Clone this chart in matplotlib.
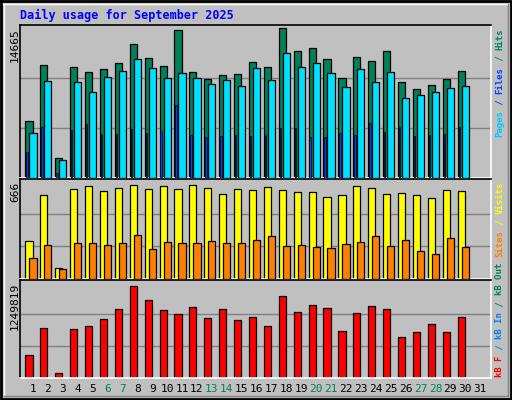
import matplotlib
matplotlib.use("Agg")
import matplotlib.pyplot as plt
import numpy as np

days = list(range(1, 32))
hits = [5607, 11082, 1924, 10883, 10385, 10684, 11281, 13073, 11779, 10983, 14466, 10385, 9689, 10087, 10186,
        11381, 10883, 14665, 12376, 12675, 11679, 9788, 11878, 11480, 12376, 9390, 8693, 9091, 9689, 10485]
files = [4413, 9490, 1725, 9390, 8395, 9888, 10485, 11679, 10784, 9788, 10286, 9788, 9191, 9589, 8992,
         10784, 9589, 12177, 10883, 11281, 10286, 8892, 10684, 9390, 10385, 7797, 8096, 8395, 8793, 8992]
pages = [2522, 5010, 531, 4712, 5309, 4313, 4313, 4811, 4413, 4612, 7101, 4214, 4015, 4114, 4214,
         4114, 4214, 4911, 4911, 4015, 4015, 4413, 4214, 5408, 4512, 5010, 4114, 4214, 4313, 5010]
visits = [259, 571, 72, 613, 634, 599, 620, 641, 613, 634, 613, 641, 620, 578, 613,
          606, 627, 606, 592, 592, 557, 571, 634, 620, 578, 585, 571, 550, 606, 599]
sites = [141, 231, 65, 245, 245, 231, 245, 301, 204, 252, 245, 245, 259, 245, 245,
         266, 294, 224, 231, 217, 210, 238, 252, 294, 224, 266, 190, 169, 280, 217]
kbytes = [293800, 649000, 70200, 635900, 675300, 767400, 899000, 1201500, 1017400, 885800, 833200, 925300,
          780600, 899000, 754300, 793700, 675300, 1070000, 859500, 951600, 912100, 609600, 846400, 938400,
          899000, 530600, 596400, 701600, 596400, 793700]
weekend = {6, 7, 13, 14, 20, 21, 27, 28}
title = "Daily usage for September 2025"

W, H = 512, 400
BG = "#C0C0C0"
fig = plt.figure(figsize=(W / 100, H / 100), dpi=100, facecolor=BG)
MONO = "DejaVu Sans Mono"

def rect(x0, y0, x1, y1):
    return [x0 / W, 1 - y1 / H, (x1 - x0) / W, (y1 - y0) / H]

bax = fig.add_axes([0, 0, 1, 1])
bax.set_xlim(0, W); bax.set_ylim(H, 0); bax.axis("off")
bax.plot([1, W - 1, W - 1, 1, 1], [1, 1, H - 1, H - 1, 1], color="black", lw=2)
bax.plot([3, W - 4], [4, 4], color="white", lw=1)
bax.plot([4, 4], [4, H - 4], color="white", lw=1)
bax.plot([W - 4, W - 4], [4, H - 4], color="#808080", lw=1)
bax.plot([4, W - 4], [H - 4, H - 4], color="#808080", lw=1)

fig.text(20 / W, 1 - 15 / H, title, color="#0000FF", fontsize=8.5, fontweight="bold",
         family=MONO, va="center", ha="left")

XL = (0.13, 31.73)

def panel(y0, y1, vmax, label):
    ax = fig.add_axes(rect(20, y0, 491, y1))
    ax.set_facecolor(BG)
    ax.set_xlim(*XL)
    ax.set_ylim(0, vmax * 1.02)
    ax.set_xticks([]); ax.set_yticks([])
    for y in (vmax / 3, 2 * vmax / 3):
        ax.axhline(y, color="#808080", lw=1, zorder=0)
    ax.spines["top"].set_color("black"); ax.spines["left"].set_color("black")
    ax.spines["right"].set_color("white"); ax.spines["bottom"].set_color("white")
    for s in ax.spines.values():
        s.set_linewidth(1.2)
    fig.text(15 / W, 1 - (y0 + 3) / H, label, rotation=90, ha="center", va="top",
             fontsize=8, family=MONO)
    return ax

d = np.array(days[:len(hits)])
BW = 0.48
ax1 = panel(25, 178, 14665, "14665")
ax1.bar(d - 0.27, hits, BW, color="#00805C", edgecolor="black", lw=0.9, zorder=2)
ax1.bar(d, files, BW, color="#00E0FF", edgecolor="black", lw=0.9, zorder=3)
ax1.bar(d - 0.4, pages, 0.1, color="#0040FF", edgecolor="black", lw=0.5, zorder=4)

ax2 = panel(179, 279, 666, "666")
ax2.bar(d - 0.27, visits, BW, color="#FFFF00", edgecolor="black", lw=0.9, zorder=2)
ax2.bar(d, sites, BW, color="#FF8000", edgecolor="black", lw=0.9, zorder=3)

ax3 = panel(280, 378, 1249819, "1249819")
ax3.bar(d - 0.27, kbytes, BW, color="#FF0000", edgecolor="black", lw=0.9, zorder=2)

for day in days:
    x = 20 + (day - XL[0]) / (XL[1] - XL[0]) * 471
    fig.text(x / W, 1 - 389 / H, str(day), ha="center", va="center", fontsize=8, family=MONO,
             color="#00805C" if day in weekend else "black")

FS = 6.5
ADV = FS * 100 / 72 * 0.602

def side(bottom_px, pieces):
    y = bottom_px
    for txt, col in pieces:
        fig.text(500 / W, 1 - y / H, txt, rotation=90, ha="center", va="bottom", fontsize=FS,
                 fontweight="bold", family=MONO, color=col)
        y -= len(txt) * ADV

side(137, [("Pages", "#00C8FF"), (" / ", "#0040FF"), ("Files", "#0040FF"), (" / ", "#00805C"), ("Hits", "#00805C")])
side(257, [("Sites", "#FF8000"), (" / ", "#FFFF00"), ("Visits", "#FFFF00")])
side(377, [("kB F", "#FF0000"), (" / ", "#0080FF"), ("kB In", "#0080FF"), (" / ", "#00805C"), ("kB Out", "#00805C")])

fig.savefig("out.png", dpi=100, facecolor=BG)
